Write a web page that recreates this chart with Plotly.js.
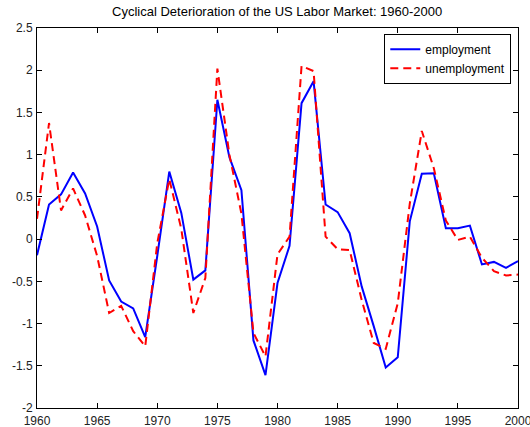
<!DOCTYPE html>
<html>
<head>
<meta charset="utf-8">
<script src="https://cdn.plot.ly/plotly-3.0.1.min.js"></script>
<style>html,body{margin:0;padding:0;background:#fff;}#chart{width:530px;height:427px;}</style>
</head>
<body>
<div id="chart"></div>
<script>
const years = [1960,1961,1962,1963,1964,1965,1966,1967,1968,1969,1970,1971,1972,1973,1974,1975,1976,1977,1978,1979,1980,1981,1982,1983,1984,1985,1986,1987,1988,1989,1990,1991,1992,1993,1994,1995,1996,1997,1998,1999,2000];
const employment = [-0.19,0.41,0.53,0.79,0.54,0.15,-0.49,-0.74,-0.82,-1.16,-0.2,0.80,0.31,-0.48,-0.37,1.65,0.97,0.58,-1.20,-1.61,-0.52,-0.08,1.61,1.87,0.41,0.32,0.07,-0.56,-1.03,-1.52,-1.40,0.21,0.775,0.78,0.13,0.13,0.16,-0.30,-0.27,-0.34,-0.26];
const unemployment = [0.24,1.375,0.34,0.60,0.28,-0.2,-0.875,-0.79,-1.09,-1.27,-0.05,0.71,0.12,-0.875,-0.46,2.02,1.0,0.3,-1.11,-1.39,-0.18,0.03,2.05,1.99,0.03,-0.12,-0.13,-0.72,-1.23,-1.30,-0.76,0.42,1.28,0.84,0.22,-0.01,0.03,-0.22,-0.38,-0.43,-0.42];
const xTicks = [1960,1965,1970,1975,1980,1985,1990,1995,2000];
const yTicks = [-2,-1.5,-1,-0.5,0,0.5,1,1.5,2,2.5];
const yTickText = ["-2","-1.5","-1","-0.5","0","0.5","1","1.5","2","2.5"];
const titleText = "Cyclical Deterioration of the US Labor Market: 1960-2000";

const font = {family: "Liberation Sans, Arial, sans-serif", size: 12, color: "#000"};
const axisCommon = {
  showline: true, linecolor: "#000", linewidth: 1, mirror: "allticks",
  ticks: "inside", ticklen: 5, tickcolor: "#000", tickwidth: 1,
  showgrid: false, zeroline: false, ticklabeloverflow: "allow",
  tickfont: {family: font.family, size: 12, color: "#222"}
};
const data = [
  {x: years, y: employment, type: "scatter", mode: "lines", name: "employment",
   line: {color: "#0000ff", width: 2}},
  {x: years, y: unemployment, type: "scatter", mode: "lines", name: "unemployment",
   line: {color: "#ff0000", width: 2, dash: "8px,5px"}}
];
const layout = {
  width: 530, height: 427,
  margin: {l: 37, r: 12, t: 28, b: 19, pad: 0},
  paper_bgcolor: "#fff", plot_bgcolor: "#fff",
  font: font,
  showlegend: true,
  title: {text: titleText, font: {family: font.family, size: 13, color: "#000"},
          x: 0.523, xanchor: "center", y: 0.974, yanchor: "middle", yref: "container"},
  xaxis: Object.assign({}, axisCommon, {range: [1960, 2000], tickvals: xTicks, ticktext: xTicks.map(String), ticklabelstandoff: 2}),
  yaxis: Object.assign({}, axisCommon, {range: [-2, 2.5], tickvals: yTicks, ticktext: yTickText, ticklabelstandoff: 1}),
  legend: {x: 0.722, y: 0.985, xanchor: "left", yanchor: "top", bgcolor: "#fff",
           bordercolor: "#000", borderwidth: 1, font: {family: font.family, size: 12, color: "#000"},
           tracegroupgap: 0, itemwidth: 30}
};
Plotly.newPlot("chart", data, layout, {staticPlot: true, displayModeBar: false});
</script>
</body>
</html>
